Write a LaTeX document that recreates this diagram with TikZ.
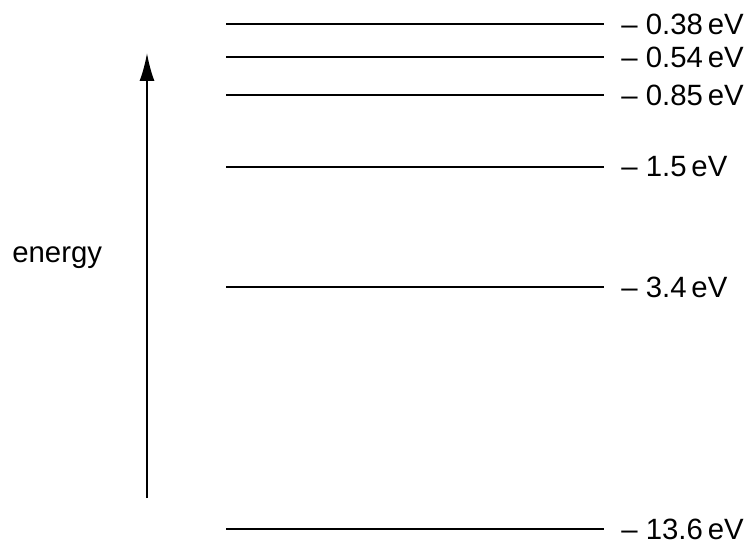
\documentclass[tikz,border=0pt]{standalone}
\usepackage{fontspec}
\setmainfont{Liberation Sans}
\usetikzlibrary{arrows.meta}

\tikzset{
  level/.style={line width=1.1pt},
  levellabel/.style={anchor=west, inner sep=0pt, font=\fontsize{16.7}{19}\selectfont},
}

\begin{document}
\begin{tikzpicture}[x=0.02cm, y=-0.02cm]
  \useasboundingbox (0,0) rectangle (749,543);

  % Energy levels
  \foreach \name/\ypos/\val in {a/24/0.38, b/57/0.54, c/95/0.85, d/167/1.5, e/287/3.4, f/529/13.6} {
    \coordinate (\name l) at (226,\ypos);
    \coordinate (\name r) at (604,\ypos);
    \draw[level] (\name l) -- (\name r);
    \node[levellabel] (\name lab) at (621,\ypos) {– \val\,eV};
  }

  % Energy axis
  \coordinate (ebot) at (147,498);
  \coordinate (etop) at (147,53);
  \draw[line width=1.1pt, -{Latex[length=5.6mm, width=3mm]}] (ebot) -- (etop);
  \node[anchor=base west, inner sep=0pt, font=\fontsize{16.7}{19}\selectfont] (elab) at (12,263) {energy};
\end{tikzpicture}
\end{document}
